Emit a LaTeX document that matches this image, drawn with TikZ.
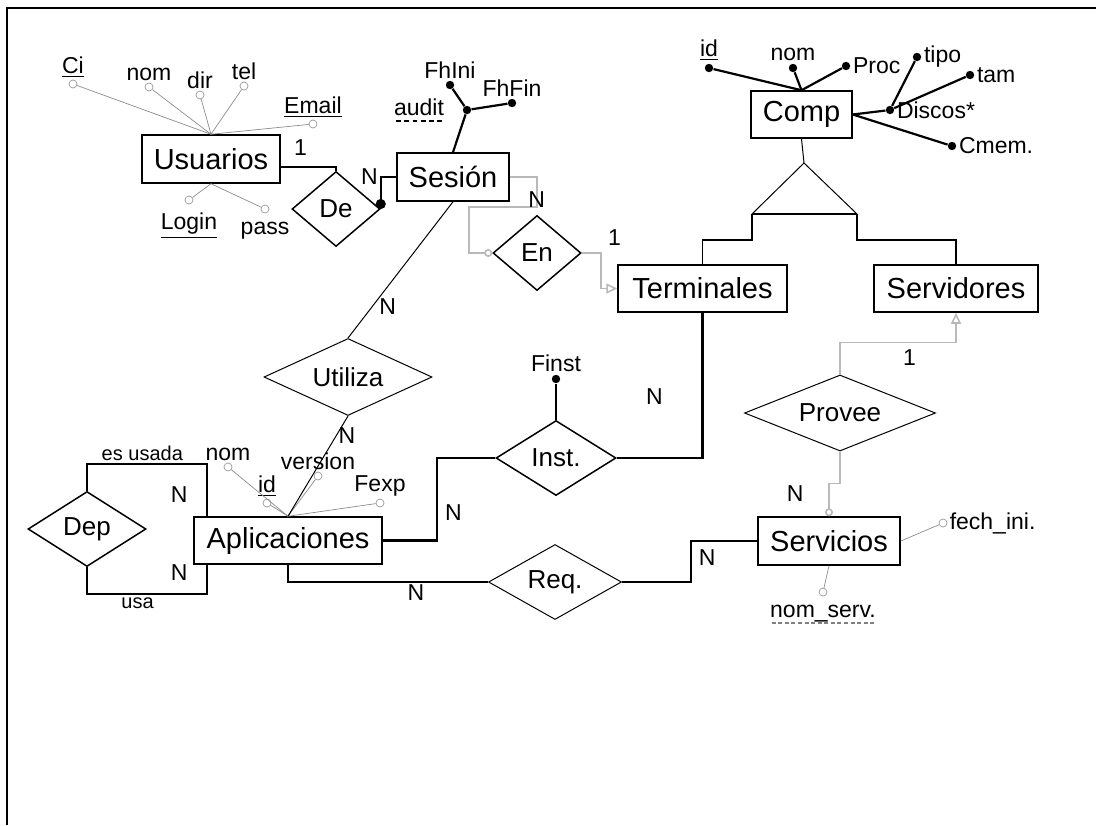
\documentclass[tikz,border=0pt]{standalone}
\usepackage{fontspec}
\setmainfont{Liberation Sans}
\usepackage{tikz}
\usetikzlibrary{positioning}
\usetikzlibrary{arrows.meta,shapes.geometric}

\newcommand\dashul[1]{\setbox0\hbox{#1}\rlap{\hbox to\wd0{\xleaders\hbox{\kern0.8pt\vrule width 2.4pt height -2.6pt depth 3.2pt\kern0.8pt}\hfill}}\box0}
\newcommand\servul[1]{\setbox0\hbox{#1}\rlap{\color{gray}\hbox to\wd0{\xleaders\hbox{\kern0.6pt\vrule width 2pt height -2.6pt depth 3.2pt\kern0.6pt}\hfill}}\box0}

\begin{document}
\begin{tikzpicture}[x=0.5pt,y=-0.5pt,>={Triangle[open,length=5.5pt,width=5pt]},font=\fontsize{11.5}{13}\selectfont,
    entity/.style={draw,line width=0.75pt,minimum height=24pt,inner sep=0pt,font=\fontsize{14.5}{16}\selectfont},
    rel/.style={draw,diamond,line width=0.75pt,aspect=2.5,inner sep=0pt,minimum height=37.5pt,font=\fontsize{13}{15}\selectfont},
    dot/.style={circle,fill=black,inner sep=0pt,minimum size=4.2pt},
    gatt/.style={circle,draw=gray!80,line width=0.35pt,inner sep=0pt,minimum size=4pt},
    conn/.style={line width=1.1pt},
    thinconn/.style={line width=0.5pt},
    gline/.style={draw=gray!90,double=gray!30,double distance=0.5pt,line width=0.35pt},
    gconn/.style={draw=gray!55,line width=0.8pt},
    card/.style={font=\fontsize{11.5}{13}\selectfont},
    every label/.style={inner sep=1pt}]
  \useasboundingbox (0,0) rectangle (1096,825);
  \draw[line width=1.2pt] (7,825) -- (7,8) -- (1096,8);

  % entidades
  \node[entity,minimum width=69pt]                      (Usuarios)     at (211,159)     {Usuarios};
  \node[entity,minimum width=56pt]                      (Sesion)       at (453,177)     {Sesión};
  \node[entity,minimum width=50.5pt,minimum height=23.5pt] (Comp)      at (801.5,114.5) {Comp};
  \node[entity,minimum width=84.5pt,minimum height=23.5pt] (Terminales) at (702.5,288.5) {Terminales};
  \node[entity,minimum width=82pt,minimum height=23.5pt] (Servidores)  at (956,288.5)   {Servidores};
  \node[entity,minimum width=94pt,minimum height=23.5pt] (Aplicaciones) at (288,540.5)  {Aplicaciones};
  \node[entity,minimum width=71pt]                      (Servicios)    at (829,541)     {Servicios};

  % relaciones
  \node[rel,minimum width=44pt]                               (De)      at (336,209) {De};
  \node[rel,minimum width=44pt]                               (En)      at (537,253) {En};
  \node[rel,line width=0.5pt,minimum width=84pt,minimum height=38.5pt] (Utiliza) at (348,377) {Utiliza};
  \node[rel,minimum width=60pt]                               (Inst)    at (556,458) {Inst.};
  \node[rel,line width=0.5pt,minimum width=66.5pt]            (Req)     at (555,582) {Req.};
  \node[rel,line width=0.5pt,minimum width=95.5pt,minimum height=38pt] (Provee) at (840,413) {Provee};
  \node[rel,minimum width=59pt]                               (Dep)     at (87,529)  {Dep};

  % atributos
  \node[gatt,label=above:\underline{Ci}]    (UsuCi)    at (73,84)   {};
  \node[gatt,label=above:nom]               (UsuNom)   at (149,87)  {};
  \node[gatt,label=above:dir]               (UsuDir)   at (200,95)  {};
  \node[gatt,label=above:tel]               (UsuTel)   at (244,86)  {};
  \node[gatt,label=above:\underline{Email}] (UsuEmail) at (313,124) {};
  \node[gatt,label={[label distance=3pt]below:\underline{Login}}] (UsuLogin) at (189,200) {};
  \node[gatt,label={[label distance=3pt]below:pass}]              (UsuPass)  at (265,209) {};

  \node[dot,label={[label distance=8pt]left:\dashul{audit}}] (SesAudit) at (467,110) {};
  \node[dot,label=above:FhIni] (SesIni) at (450,85)  {};
  \node[dot,label=above:FhFin] (SesFin) at (512,103) {};

  \node[dot,label=above:\underline{id}] (CompId)     at (709,68)  {};
  \node[dot,label=above:nom]            (CompNom)    at (793,68)  {};
  \node[dot,label=right:Proc]           (CompProc)   at (846,66)  {};
  \node[dot,label=right:Discos*]        (CompDiscos) at (890,110) {};
  \node[dot,label=right:tipo]           (CompTipo)   at (917,57)  {};
  \node[dot,label=right:tam]            (CompTam)    at (970,75)  {};
  \node[dot,label=right:Cmem.]          (CompCmem)   at (952,146) {};

  \node[gatt,label=above:nom]            (AplNom)     at (228,467) {};
  \node[gatt,label=above:\underline{id}] (AplId)      at (267,503) {};
  \node[gatt,label=above:version]        (AplVersion) at (318,476) {};
  \node[gatt,label=above:Fexp]           (AplFexp)    at (380,503) {};

  \node[gatt,label=right:fech\_ini.]                              (SerFech) at (943,523) {};
  \node[gatt,label={[label distance=3pt]below:\servul{nom\_serv.}}] (SerNom)  at (823,592) {};

  \node[dot,label=above:Finst] (Finst) at (556,379) {};

  \coordinate (IsaTop) at (804,163);
  \coordinate (IsaL)   at (752,214);
  \coordinate (IsaR)   at (857,214);

  \path[gline]
    (Usuarios.north) edge (UsuCi)
    (Usuarios.north) edge (UsuNom)
    (Usuarios.north) edge (UsuDir)
    (Usuarios.north) edge (UsuTel)
    (Usuarios.north) edge (UsuEmail)
    (Usuarios.south) edge (UsuLogin)
    (Usuarios.south) edge (UsuPass)
    (Aplicaciones.north) edge (AplNom)
    (Aplicaciones.north) edge (AplId)
    (Aplicaciones.north) edge (AplVersion)
    (Aplicaciones.north) edge (AplFexp)
    (Servicios.east)  edge (SerFech)
    (Servicios.south) edge (SerNom);
  \path[conn]
    (Sesion.north) edge (SesAudit)
    (SesAudit) edge (SesIni)
    (SesAudit) edge (SesFin)
    (Comp.north) edge (CompId)
    (Comp.north) edge (CompNom)
    (Comp.north) edge (CompProc)
    (Comp.east) edge (CompDiscos)
    (Comp.east) edge (CompCmem)
    (CompDiscos) edge (CompTipo)
    (CompDiscos) edge (CompTam)
    (Inst.north) edge (Finst);

  % generalizacion
  \draw[thinconn] (Comp.south) -- (IsaTop);
  \draw[thinconn] (IsaTop) -- (IsaL) -- (IsaR) -- cycle;
  \draw[line width=0.8pt] (IsaL) -- (IsaR);
  \draw[line width=0.8pt] (IsaL) -- ++(0,26) -| (Terminales.north);
  \draw[line width=0.8pt] (IsaR) -- ++(0,26) -| (Servidores.north);

  % conexiones
  \draw[conn] ([yshift=-4pt]Usuarios.east) -| node[card,pos=0.18,above=2pt] {1} (De.north);
  \draw[conn,{Circle[length=5pt]}-] (De.east) |- node[card,pos=0.5,left,inner sep=1pt] {N} (Sesion.west);
  \draw[gconn,-{Circle[open,length=4pt]}] (Sesion.east) -- ++(27,0) |- node[card,pos=0.38] {N} ++(-68,30) |- (En.west);
  \draw[gconn,->] (En.east) -- ++(19,0) node[card,above right] {1} |- (Terminales.west);
  \draw[thinconn] (Sesion.south) -- node[card,pos=0.77,right] {N} (Utiliza.north);
  \draw[thinconn] (Utiliza.south) -- node[card,pos=0.2,right,inner sep=1pt] {N} (Aplicaciones.north);
  \draw[conn] (Terminales.south) |- node[card,pos=0.29,left=16pt] {N} (Inst.east);
  \draw[conn] (Inst.west) -- ++(-58,0) |- node[card,pos=0.33,right] {N} (Aplicaciones.east);
  \draw[conn] (Aplicaciones.south) |- node[card,pos=0.82,below,inner sep=1pt] {N} (Req.west);
  \draw[conn] (Req.east) -- ++(69,0) |- node[card,pos=0.3,right] {N} (Servicios.west);
  \draw[gconn,->] (Provee.north) |- node[card,pos=0.8,below] {1} ++(116,-32) -- (Servidores.south);
  \draw[gconn,-{Circle[open,length=4pt]}] (Provee.south) -- ++(0,32) -| node[card,pos=0.65,left=9pt] {N} (Servicios.north);
  \draw[conn] (Dep.north) -- ++(0,-27) -| node[pos=0.23,above,inner sep=1pt,font=\fontsize{10}{12}\selectfont] {es usada}
    node[card,pos=0.79,left=6pt] {N} ([xshift=7pt]Aplicaciones.north west);
  \draw[conn] (Dep.south) -- ++(0,27) -| node[pos=0.21,below,inner sep=1pt,font=\fontsize{10}{12}\selectfont] {usa}
    node[card,pos=0.86,left=6pt] {N} ([xshift=7pt]Aplicaciones.south west);
\end{tikzpicture}
\end{document}
